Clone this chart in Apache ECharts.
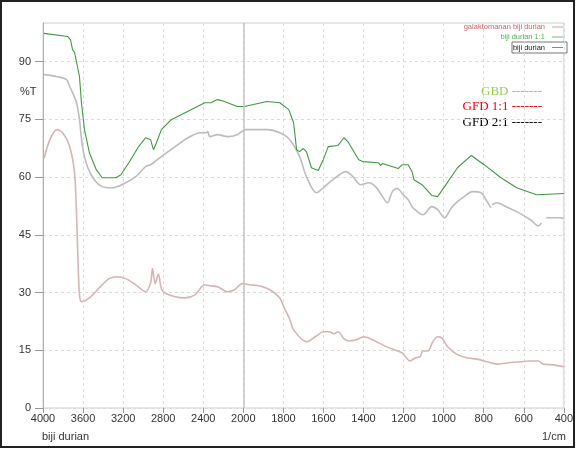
<!DOCTYPE html>
<html>
<head>
<meta charset="utf-8">
<script src="https://cdn.jsdelivr.net/npm/echarts@6/dist/echarts.min.js"></script>
<style>
  html, body { margin: 0; padding: 0; background: #fff; }
  #chart { width: 576px; height: 450px; }
</style>
</head>
<body>
<div id="chart"></div>
<script>
// FTIR spectra (%T vs wavenumber, 1/cm)
const xTickLabels = ['4000','3600','3200','2800','2400','2000','1800','1600','1400','1200','1000','800','600','400'];
const yTicks = [0, 15, 30, 45, 60, 75, 90];

// biji durian 1:1 (green)
const greenWn = [3990,3754,3725,3705,3685,3636,3616,3586,3537,3468,3409,3271,3222,3143,3045,2976,2926,2897,2867,2818,2719,2582,2483,2385,2325,2257,2188,2158,2060,1995,1882,1818,1773,1749,1734,1719,1700,1685,1660,1626,1601,1576,1527,1498,1478,1424,1404,1325,1315,1305,1227,1207,1177,1158,1148,1108,1059,1030,995,931,862,798,714,635,537,400];
const greenT  = [97.3,96.5,95.6,93.1,92.4,86.1,79.3,72.3,66.3,61.9,59.8,59.8,60.6,63.7,67.9,70.2,69.7,67.1,68.9,72.3,74.9,76.7,78.0,79.3,79.3,80.1,79.6,79.3,78.3,78.3,79.6,79.3,77.5,74.1,67.1,66.6,67.4,66.6,62.4,61.7,64.5,67.9,68.2,70.2,69.2,64.5,64.0,63.7,63.0,63.5,62.2,63.2,63.2,61.4,59.3,58.0,55.2,54.9,57.5,62.4,65.6,63.2,59.8,57.2,55.4,55.7];

// biji durian (gray)
const grayWn = [3990,3862,3764,3734,3705,3665,3636,3606,3557,3488,3409,3310,3212,3074,2976,2926,2897,2818,2680,2552,2424,2375,2355,2335,2257,2158,2060,1990,1882,1818,1768,1719,1685,1635,1601,1552,1488,1453,1414,1374,1340,1305,1281,1256,1232,1202,1177,1158,1143,1103,1059,1030,995,961,931,897,857,813,783,764,762,759,734,685,635,567,527,512,500,488,419,400];
const grayT  = [86.6,86.1,85.3,83.5,81.9,79.3,74.9,67.9,62.7,59.3,57.5,57.2,58.0,60.1,62.7,63.2,63.7,65.3,67.9,70.2,71.5,71.5,71.8,70.5,71.0,70.5,71.0,72.3,72.3,71.5,69.7,65.3,60.1,55.9,57.2,59.3,61.4,60.1,58.0,58.5,57.5,54.9,53.3,56.2,57.0,55.4,54.1,52.3,51.5,50.2,52.3,51.5,49.4,52.0,53.6,54.9,56.2,55.9,53.6,52.0,null,52.8,53.3,52.2,51.0,48.9,47.3,48.1,null,49.4,49.4,49.2];

// galaktomanan biji durian (pink)
const pinkWn = [3990,3931,3862,3803,3734,3685,3665,3650,3636,3616,3537,3439,3340,3261,3173,3074,2976,2926,2907,2880,2848,2818,2779,2680,2582,2483,2385,2325,2257,2158,2089,2010,1970,1916,1867,1818,1798,1768,1749,1685,1635,1601,1571,1547,1527,1498,1473,1438,1399,1355,1305,1256,1207,1167,1143,1118,1103,1079,1054,1030,1010,980,936,882,833,783,734,685,616,567,527,503,453,400];
const pinkT  = [64.8,69.7,72.3,71.5,67.9,61.1,50.0,38.0,29.5,27.6,28.6,31.2,33.6,34.1,33.6,32.0,30.2,32.5,36.2,32.3,34.8,31.0,29.8,28.9,28.6,29.4,32.0,31.7,31.5,30.2,30.7,32.3,32.0,31.7,30.7,28.6,26.3,23.0,20.3,17.2,18.7,19.8,19.8,19.3,19.8,18.0,17.4,17.7,18.5,17.7,16.4,15.3,14.3,12.2,13.0,13.3,14.8,14.8,17.2,18.5,18.2,15.9,14.0,13.0,12.7,12.0,11.4,11.7,12.0,12.2,12.2,11.4,11.2,10.7];

// The wavenumber scale changes at 2000 1/cm: 400 per division above, 200 per division below.
function toU(wn) { return wn >= 2000 ? (4000 - wn) / 400 : 5 + (2000 - wn) / 200; }
function pairs(wn, t) { return wn.map((w, i) => [toU(w), t[i]]); }

const chart = echarts.init(document.getElementById('chart'), null, { renderer: 'canvas' });

const labelFont = { fontFamily: 'Liberation Sans, Arial, sans-serif', fontSize: 11, color: '#333' };

chart.setOption({
  animation: false,
  backgroundColor: '#fff',
  grid: { left: 43, right: 5, top: 23, bottom: 42, show: true, borderColor: '#d0d0d0', borderWidth: 1 },
  xAxis: {
    type: 'value', min: 0, max: 13, interval: 1,
    axisLine: { show: false },
    axisTick: { show: true, length: 5, lineStyle: { color: '#999' } },
    axisLabel: Object.assign({ margin: 5, formatter: v => xTickLabels[Math.round(v)] }, labelFont),
    splitLine: { show: true, lineStyle: { color: '#dcdcdc', type: [3, 3], width: 1 } }
  },
  yAxis: {
    type: 'value', min: 0, max: 100, interval: 15,
    axisLine: { show: true, lineStyle: { color: '#b0b0b0' } },
    axisTick: { show: true, length: 8, lineStyle: { color: '#999' }, customValues: yTicks },
    axisLabel: Object.assign({ margin: 12, customValues: yTicks }, labelFont),
    splitLine: { show: true, lineStyle: { color: '#dcdcdc', type: [3, 3], width: 1 } }
  },
  series: [
    {
      name: 'galaktomanan biji durian', type: 'line', data: pairs(pinkWn, pinkT),
      showSymbol: false, smooth: 0.3, lineStyle: { color: '#d8b4b4', width: 1.6 }, z: 3
    },
    {
      name: 'biji durian', type: 'line', data: pairs(grayWn, grayT), connectNulls: false,
      showSymbol: false, smooth: 0.3, lineStyle: { color: '#bdbdbd', width: 1.6 }, z: 3,
      markLine: {
        silent: true, symbol: 'none', label: { show: false },
        lineStyle: { color: '#c4c4c4', type: 'solid', width: 1.5 },
        data: [{ xAxis: toU(2000) }]
      }
    },
    {
      name: 'biji durian 1:1', type: 'line', data: pairs(greenWn, greenT),
      showSymbol: false, smooth: false, lineStyle: { color: '#3f9a3f', width: 1.1 }, z: 4
    }
  ],
  graphic: [
    // outer frame
    { type: 'rect', shape: { x: 1, y: 1, width: 573, height: 446 }, style: { fill: 'none', stroke: '#222', lineWidth: 2 }, silent: true },
    // axis captions
    { type: 'text', left: 20, top: 86, style: { text: '%T', font: '11px Liberation Sans, Arial, sans-serif', fill: '#333' } },
    { type: 'text', left: 42, top: 431, style: { text: 'biji durian', font: '11px Liberation Sans, Arial, sans-serif', fill: '#333' } },
    { type: 'text', left: 542, top: 431, style: { text: '1/cm', font: '11px Liberation Sans, Arial, sans-serif', fill: '#333' } },
    // series key
    { type: 'text', x: 545, y: 27, style: { text: 'galaktomanan biji durian', font: '7.5px Liberation Sans, Arial, sans-serif', fill: '#d06464', align: 'right', verticalAlign: 'middle' } },
    { type: 'line', shape: { x1: 552, y1: 27, x2: 563, y2: 27 }, style: { stroke: '#c8a8a8', lineWidth: 1 } },
    { type: 'text', x: 545, y: 37, style: { text: 'biji durian 1:1', font: '7.5px Liberation Sans, Arial, sans-serif', fill: '#4cb84c', align: 'right', verticalAlign: 'middle' } },
    { type: 'line', shape: { x1: 552, y1: 37, x2: 563, y2: 37 }, style: { stroke: '#7cc07c', lineWidth: 1 } },
    { type: 'rect', shape: { x: 512, y: 42, width: 55, height: 11 }, style: { fill: '#fff', stroke: '#555', lineWidth: 0.8 } },
    { type: 'text', x: 545, y: 47.5, style: { text: 'biji durian', font: '7.5px Liberation Sans, Arial, sans-serif', fill: '#222', align: 'right', verticalAlign: 'middle' } },
    { type: 'line', shape: { x1: 552, y1: 47.5, x2: 563, y2: 47.5 }, style: { stroke: '#888', lineWidth: 1 } },
    // sample labels
    { type: 'text', x: 542, y: 92, style: { text: 'GBD -------', font: '13px Liberation Serif, Times New Roman, serif', fill: '#92d050', align: 'right', verticalAlign: 'middle' } },
    { type: 'text', x: 542, y: 107, style: { text: 'GFD 1:1 -------', font: '13px Liberation Serif, Times New Roman, serif', fill: '#ff0000', align: 'right', verticalAlign: 'middle' } },
    { type: 'text', x: 542, y: 123, style: { text: 'GFD 2:1 -------', font: '13px Liberation Serif, Times New Roman, serif', fill: '#000', align: 'right', verticalAlign: 'middle' } }
  ]
});
</script>
</body>
</html>
